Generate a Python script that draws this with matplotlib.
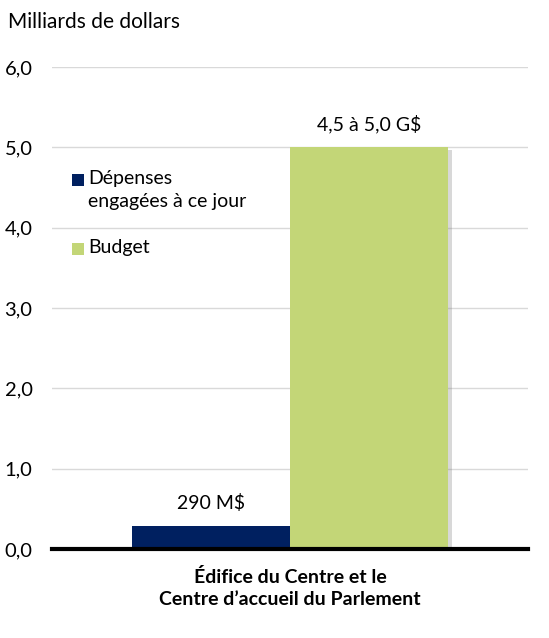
import matplotlib
matplotlib.use("Agg")
import matplotlib.pyplot as plt
import matplotlib.patheffects as pe
from matplotlib.patches import Rectangle

plt.rcParams['font.family'] = ['Lato', 'DejaVu Sans']

category = "Édifice du Centre et le\nCentre d’accueil du Parlement"
series_names = ["Dépenses\nengagées à ce jour", "Budget"]
values = [0.29, 5.0]
value_labels = ["290 M$", "4,5 à 5,0 G$"]
colors = ["#002060", "#C3D677"]
yticks = [0.0, 1.0, 2.0, 3.0, 4.0, 5.0, 6.0]
ytick_labels = ["0,0", "1,0", "2,0", "3,0", "4,0", "5,0", "6,0"]

W, H = 549, 638
fig = plt.figure(figsize=(W / 100, H / 100), dpi=100)
ax = fig.add_axes([0.0947, 0.1395, 0.867, 0.7555])

width = 0.332
offsets = [-width / 2, width / 2]
bars = []
for i, (v, c, o) in enumerate(zip(values, colors, offsets)):
    b = ax.bar(o, v, width=width, color=c, zorder=3, label=series_names[i],
               edgecolor='none')
    bars.append(b)
bars[1][0].set_path_effects([pe.SimplePatchShadow(offset=(3, -2), shadow_rgbFace='#7f7f7f', alpha=0.3), pe.Normal()])

for o, v, lab in zip(offsets, values, value_labels):
    ax.text(o, v + 0.17, lab, ha='center', va='bottom', fontsize=14, color='black')

ax.set_xlim(-0.5, 0.5)
ax.set_ylim(0, 6.0)
ax.set_yticks(yticks)
ax.set_yticklabels(ytick_labels, fontsize=14.5)
ax.set_xticks([0])
ax.set_xticklabels([category], fontsize=14, fontweight='bold', linespacing=1.35)
ax.tick_params(axis='both', length=0)
ax.tick_params(axis='y', pad=14)
ax.tick_params(axis='x', pad=14)
ax.yaxis.grid(True, color='#D9D9D9', linewidth=1, zorder=0)
ax.set_axisbelow(True)
for s in ['top', 'right', 'left']:
    ax.spines[s].set_visible(False)
ax.spines['bottom'].set_linewidth(3)
ax.spines['bottom'].set_color('black')
ax.spines['bottom'].set_zorder(5)

fig.text(8 / W, 1 - 22 / H, "Milliards de dollars", fontsize=15, ha='left', va='center')

# legend drawn by hand: square aligned with the first line of each label
legend_rows = [180, 249]  # pixel y of first line of each entry
for name, c, ypx in zip(series_names, colors, legend_rows):
    fig.patches.append(Rectangle((72 / W, 1 - (ypx + 6) / H), 12 / W, 12 / H,
                                 transform=fig.transFigure, facecolor=c, edgecolor='none'))
    fig.text(88 / W, 1 - (ypx - 10) / H, name, fontsize=14, ha='left', va='top', linespacing=1.45)

fig.savefig("out.png", dpi=100)
